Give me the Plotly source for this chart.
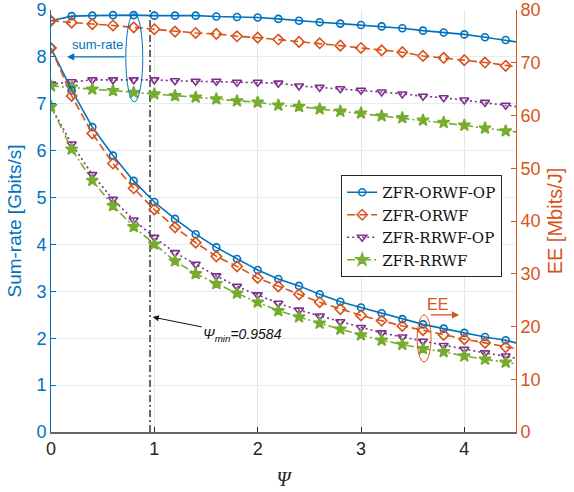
import plotly.graph_objects as go

# Power-splitting factor grid (markers every 0.2, curve ends at 4.5)
psi = [0.0, 0.2, 0.4, 0.6, 0.8, 1.0, 1.2, 1.4, 1.6, 1.8, 2.0, 2.2,
       2.4, 2.6, 2.8, 3.0, 3.2, 3.4, 3.6, 3.8, 4.0, 4.2, 4.4, 4.5]

# Sum-rate [Gbits/s] (left axis)
rate_orwf_op = [8.77, 8.87, 8.88, 8.89, 8.89, 8.88, 8.88, 8.88, 8.86, 8.85, 8.84, 8.81,
                8.77, 8.74, 8.71, 8.68, 8.65, 8.61, 8.56, 8.52, 8.48, 8.42, 8.36, 8.32]
rate_orwf = [8.77, 8.73, 8.70, 8.67, 8.63, 8.59, 8.54, 8.51, 8.49, 8.44, 8.41, 8.37,
             8.32, 8.29, 8.24, 8.19, 8.14, 8.10, 8.02, 7.98, 7.93, 7.88, 7.81, 7.79]
rate_rrwf_op = [7.42, 7.47, 7.51, 7.51, 7.51, 7.51, 7.49, 7.48, 7.48, 7.46, 7.46, 7.44,
                7.38, 7.35, 7.32, 7.29, 7.25, 7.21, 7.16, 7.13, 7.08, 7.03, 6.97, 6.94]
rate_rrwf = [7.38, 7.35, 7.31, 7.28, 7.24, 7.21, 7.17, 7.14, 7.10, 7.06, 7.03, 6.97,
             6.94, 6.89, 6.84, 6.80, 6.74, 6.70, 6.65, 6.60, 6.54, 6.48, 6.42, 6.40]

# Energy efficiency [Mbits/J] (right axis)
ee_orwf_op = [72.8, 64.8, 57.8, 52.4, 47.6, 43.6, 40.4, 37.5, 35.0, 32.8, 30.7, 29.0,
              27.7, 26.1, 24.7, 23.6, 22.5, 21.4, 20.4, 19.6, 18.8, 18.0, 17.4, 16.9]
ee_orwf = [72.8, 63.7, 56.6, 50.9, 46.2, 42.2, 38.8, 35.9, 33.3, 31.4, 29.2, 27.6,
           26.1, 24.6, 23.3, 22.1, 21.1, 20.1, 19.3, 18.4, 17.6, 16.9, 16.1, 15.8]
ee_rrwf_op = [61.7, 54.6, 48.8, 44.1, 40.2, 36.9, 34.0, 31.8, 29.6, 27.6, 26.0, 24.4,
              23.1, 22.0, 20.9, 19.8, 18.8, 18.0, 17.2, 16.4, 15.7, 15.0, 14.4, 14.0]
ee_rrwf = [61.7, 53.6, 47.7, 42.9, 38.9, 35.6, 32.4, 30.0, 28.1, 26.3, 24.6, 23.0,
           21.8, 20.6, 19.5, 18.4, 17.4, 16.6, 15.8, 15.2, 14.4, 13.8, 13.2, 12.9]

psi_min = 0.9584

schemes = ["ZFR-ORWF-OP", "ZFR-ORWF", "ZFR-RRWF-OP", "ZFR-RRWF"]
rates = [rate_orwf_op, rate_orwf, rate_rrwf_op, rate_rrwf]
ees = [ee_orwf_op, ee_orwf, ee_rrwf_op, ee_rrwf]

BLUE = "#0072BD"
ORANGE = "#D95319"
PURPLE = "#7E2F8E"
GREEN = "#77AC30"
colors = [BLUE, ORANGE, PURPLE, GREEN]
dashes = ["solid", "8px,4px", "2px,3px", "8px,3px,2px,3px"]
symbols = ["circle-open", "diamond-open", "triangle-down-open", "star"]
msizes = [7, 8, 8, 9]

# no marker on the final (curve-end) sample
mop = [1] * (len(psi) - 1) + [0]

fig = go.Figure()

# vertical marker at psi_min
fig.add_trace(go.Scatter(
    x=[psi_min, psi_min], y=[0, 9], mode="lines", yaxis="y",
    line=dict(color="#666666", width=2, dash="7px,3px,2px,3px"),
    showlegend=False, hoverinfo="skip"))

for name, r, e, c, d, s, ms in zip(schemes, rates, ees, colors, dashes, symbols, msizes):
    marker = dict(symbol=s, size=ms, color=c, opacity=mop,
                  line=dict(color=c, width=1.6))
    fig.add_trace(go.Scatter(
        x=psi, y=r, mode="lines+markers", yaxis="y", name=name,
        legendgroup=name, showlegend=True,
        line=dict(color=c, width=1.6, dash=d), marker=marker))
    fig.add_trace(go.Scatter(
        x=psi, y=e, mode="lines+markers", yaxis="y2", name=name,
        legendgroup=name, showlegend=False,
        line=dict(color=c, width=1.6, dash=d), marker=marker))

TICKFONT = 18

fig.update_layout(
    width=574, height=492,
    margin=dict(l=51, r=58, t=10, b=60),
    paper_bgcolor="white", plot_bgcolor="white",
    font=dict(family="Liberation Sans, Arial, sans-serif", size=TICKFONT, color="#262626"),
    xaxis=dict(
        range=[0, 4.5], tickvals=[0, 1, 2, 3, 4], ticks="inside", ticklen=5,
        tickcolor="#262626", showline=True, linecolor="#666666", linewidth=1.5,
        showgrid=True, gridcolor="#e6e6e6", gridwidth=1, zeroline=False,
        automargin=False,
        tickfont=dict(size=TICKFONT, color="#262626"),
        title=dict(text="<i>Ψ</i>", font=dict(family="Liberation Serif, serif", size=20, color="#262626"),
                   standoff=14)),
    yaxis=dict(
        range=[0, 9], dtick=1, ticks="inside", ticklen=5, tickcolor=BLUE,
        showline=True, linecolor=BLUE, linewidth=1, zeroline=False,
        showgrid=True, gridcolor="#e3edf5", gridwidth=1, automargin=False,
        tickfont=dict(size=TICKFONT, color=BLUE),
        title=dict(text="Sum-rate [Gbits/s]", font=dict(size=19, color=BLUE), standoff=9)),
    yaxis2=dict(
        range=[0, 80], dtick=10, overlaying="y", side="right", anchor="x",
        ticks="inside", ticklen=5, tickcolor=ORANGE, automargin=False,
        showline=True, linecolor=ORANGE, linewidth=1, zeroline=False, showgrid=False,
        tickfont=dict(size=TICKFONT, color=ORANGE),
        title=dict(text="EE [Mbits/J]", font=dict(size=20, color=ORANGE), standoff=8)),
    legend=dict(
        x=0.624, y=0.609, xanchor="left", yanchor="top",
        bgcolor="white", bordercolor="#262626", borderwidth=1,
        font=dict(family="DejaVu Serif, Liberation Serif, serif", size=15, color="#111111"),
        itemwidth=30, tracegroupgap=0),
    showlegend=True,
)

# ellipse around the sum-rate curves and its pointer
fig.add_shape(type="circle", xref="x", yref="y", x0=0.724, x1=0.888, y0=7.04, y1=8.93,
              line=dict(color=BLUE, width=1))
fig.add_annotation(x=0.155, y=8.0, xref="x", yref="y", ax=59, ay=0, text="",
                   showarrow=True, arrowhead=2, arrowsize=1.2, arrowwidth=1.2, arrowcolor=BLUE)
fig.add_annotation(x=0.45, y=8.26, xref="x", yref="y", text="sum-rate", showarrow=False,
                   font=dict(size=13, color=BLUE))

# ellipse around the EE curves and its pointer
fig.add_shape(type="circle", xref="x", yref="y2", x0=3.543, x1=3.678, y0=13.3, y1=22.2,
              line=dict(color=ORANGE, width=1))
fig.add_annotation(x=3.95, y=22.2, xref="x", yref="y2", ax=-30, ay=0, text="",
                   showarrow=True, arrowhead=2, arrowsize=1.2, arrowwidth=1.2, arrowcolor=ORANGE)
fig.add_annotation(x=3.745, y=24.1, xref="x", yref="y2", text="EE", showarrow=False,
                   font=dict(size=16, color=ORANGE))

# psi_min label
fig.add_annotation(x=0.985, y=2.45, xref="x", yref="y", ax=90, ay=18,
                   text="<i>Ψ<sub>min</sub>=0.9584</i>", showarrow=True,
                   arrowhead=2, arrowsize=1.2, arrowwidth=1, arrowcolor="#111111",
                   font=dict(size=14, color="#111111"))

fig.write_html("out.html")
